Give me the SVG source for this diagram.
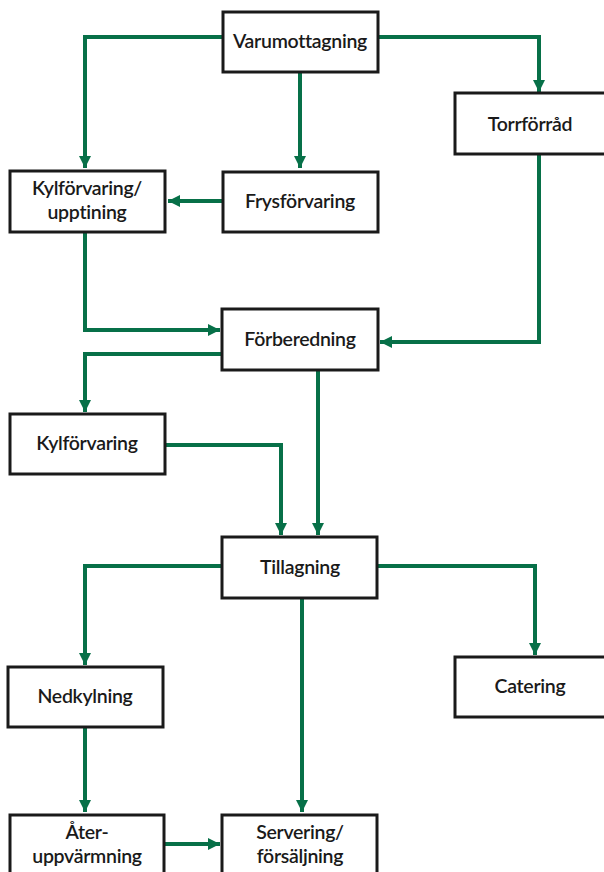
<svg xmlns="http://www.w3.org/2000/svg" width="604" height="872" viewBox="0 0 604 872">
<style>
.box{fill:#fff;stroke:#1a1a1a;stroke-width:3}
.lbl{font-family:Lato,"Open Sans","Liberation Sans",sans-serif;font-weight:600;font-size:19.5px;fill:#1a1a1a;text-anchor:middle;letter-spacing:-0.3px}
.c{fill:none;stroke:#077048;stroke-width:4}
</style>
<defs>
<marker id="ah" markerUnits="userSpaceOnUse" markerWidth="14" markerHeight="12" refX="12" refY="6" orient="auto">
<path d="M0,0 L12,6 L0,12 z" fill="#077048"/>
</marker>
</defs>
<rect width="604" height="872" fill="#fff"/>
<g id="connectors">
<path class="c" d="M223,37 H85 V168" marker-end="url(#ah)"/>
<path class="c" d="M378,37 H539 V92" marker-end="url(#ah)"/>
<path class="c" d="M300,72 V168" marker-end="url(#ah)"/>
<path class="c" d="M223,201 H168" marker-end="url(#ah)"/>
<path class="c" d="M85,232 V330 H220" marker-end="url(#ah)"/>
<path class="c" d="M539,154 V342 H380" marker-end="url(#ah)"/>
<path class="c" d="M222,354 H85 V412" marker-end="url(#ah)"/>
<path class="c" d="M165,445 H281 V535" marker-end="url(#ah)"/>
<path class="c" d="M318,370 V535" marker-end="url(#ah)"/>
<path class="c" d="M222,566 H85 V665" marker-end="url(#ah)"/>
<path class="c" d="M377,566 H535 V655" marker-end="url(#ah)"/>
<path class="c" d="M302,598 V812" marker-end="url(#ah)"/>
<path class="c" d="M85,728 V812" marker-end="url(#ah)"/>
<path class="c" d="M165,844 H220" marker-end="url(#ah)"/>
</g>
<g id="varumottagning"><rect class="box" x="223" y="12" width="155" height="60"/><text class="lbl" x="300" y="48">Varumottagning</text></g>
<g id="torrforrad"><rect class="box" x="455" y="93" width="152" height="61"/><text class="lbl" x="530" y="131">Torrförråd</text></g>
<g id="kylforvaring-upptining"><rect class="box" x="10" y="171" width="155" height="61"/><text class="lbl" x="87" y="195">Kylförvaring/</text><text class="lbl" x="87" y="219">upptining</text></g>
<g id="frysforvaring"><rect class="box" x="223" y="172" width="155" height="60"/><text class="lbl" x="300" y="208">Frysförvaring</text></g>
<g id="forberedning"><rect class="box" x="222" y="309" width="156" height="61"/><text class="lbl" x="300" y="346">Förberedning</text></g>
<g id="kylforvaring"><rect class="box" x="10" y="414" width="155" height="60"/><text class="lbl" x="87" y="450">Kylförvaring</text></g>
<g id="tillagning"><rect class="box" x="222" y="537" width="155" height="61"/><text class="lbl" x="300" y="574">Tillagning</text></g>
<g id="nedkylning"><rect class="box" x="8" y="667" width="155" height="60"/><text class="lbl" x="85" y="703">Nedkylning</text></g>
<g id="catering"><rect class="box" x="455" y="657" width="152" height="60"/><text class="lbl" x="530" y="693">Catering</text></g>
<g id="ateruppvarmning"><rect class="box" x="10" y="815" width="154" height="62"/><text class="lbl" x="87" y="839">Åter-</text><text class="lbl" x="87" y="863">uppvärmning</text></g>
<g id="servering"><rect class="box" x="222" y="815" width="155" height="62"/><text class="lbl" x="300" y="839">Servering/</text><text class="lbl" x="300" y="863">försäljning</text></g>
</svg>
